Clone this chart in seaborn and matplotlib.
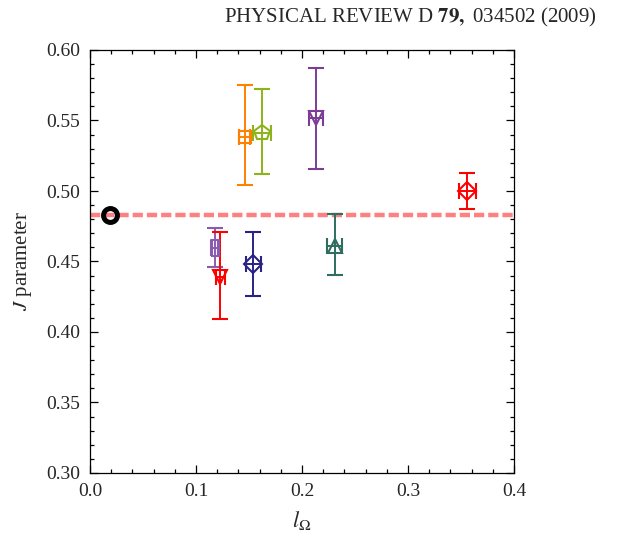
import numpy as np
import pandas as pd
import matplotlib
matplotlib.use("Agg")
import matplotlib.pyplot as plt
from matplotlib.ticker import MultipleLocator
import seaborn as sns

# data
l_omega = [0.146, 0.162, 0.213, 0.118, 0.123, 0.154, 0.231, 0.356]
j_param = [0.5385, 0.5413, 0.5515, 0.4597, 0.4393, 0.4481, 0.4609, 0.4999]
j_err_lo = [0.034, 0.0295, 0.036, 0.0135, 0.0304, 0.0227, 0.0206, 0.0127]
j_err_hi = [0.037, 0.031, 0.036, 0.0143, 0.0317, 0.0229, 0.0227, 0.013]
l_err = [0.0054, 0.0085, 0.0065, 0.003, 0.004, 0.007, 0.007, 0.0083]
colors = ["#ff8000", "#8db31a", "#7d3c98", "#8a5cb0",
          "#ff0000", "#2b2383", "#2d6e5f", "#ff0000"]
rect = [(-0.55, -1), (0.55, -1), (0.55, 1), (-0.55, 1), (-0.55, -1)]
markers = ["s", "p", "v", rect, "v", "D", "^", "D"]
msizes = [9, 11.5, 10.5, 11, 9.5, 9, 10, 9.5]

phys_x = [0.019]
phys_y = [0.483]
ref_line = 0.483

sns.set_style("ticks")
plt.rcParams["font.family"] = ["Liberation Serif", "DejaVu Serif"]
plt.rcParams["mathtext.fontset"] = "stix"

fig = plt.figure(figsize=(6.19, 5.35), dpi=100)
ax = fig.add_axes([90 / 619, 1 - 473 / 535, 424 / 619, 423 / 535])

line_df = pd.DataFrame({"x": [0.0, 0.4], "y": [ref_line, ref_line]})
sns.lineplot(data=line_df, x="x", y="y", ax=ax, color="#ff8080", lw=3.2,
             dashes=False, zorder=1)
ax.lines[-1].set_dashes((2.3, 0.9))

for i in range(len(l_omega)):
    ax.errorbar(l_omega[i], j_param[i],
                yerr=[[j_err_lo[i]], [j_err_hi[i]]], xerr=l_err[i],
                marker=markers[i], ms=msizes[i], mfc="none", mec=colors[i],
                mew=1.5, color=colors[i], elinewidth=1.4, capsize=5.5,
                capthick=1.4, zorder=3)

ax.plot(phys_x, phys_y, "o", ms=10, mfc="none", mec="black", mew=3.6,
        zorder=4)

ax.set_xlim(0.0, 0.4)
ax.set_ylim(0.30, 0.60)
ax.xaxis.set_major_locator(MultipleLocator(0.1))
ax.xaxis.set_minor_locator(MultipleLocator(0.02))
ax.yaxis.set_major_locator(MultipleLocator(0.05))
ax.yaxis.set_minor_locator(MultipleLocator(0.01))
ax.xaxis.set_major_formatter(matplotlib.ticker.FormatStrFormatter("%.1f"))
ax.yaxis.set_major_formatter(matplotlib.ticker.FormatStrFormatter("%.2f"))
ax.tick_params(which="both", direction="in", top=True, right=True,
               labelsize=14, width=0.9, color="black")
ax.tick_params(which="major", length=5.5, pad=7)
ax.tick_params(which="minor", length=3)
for s in ax.spines.values():
    s.set_linewidth(0.9)
    s.set_color("black")

ax.set_xlabel(r"$l_\Omega$", fontsize=16, labelpad=7)
ax.set_ylabel(r"$J$ parameter", fontsize=15, labelpad=9)

fig.text(597 / 619, 1 - 22 / 535,
         r"PHYSICAL REVIEW D $\mathbf{79,}$ 034502 (2009)",
         ha="right", va="baseline", fontsize=15)

fig.savefig("out.png", dpi=100)
